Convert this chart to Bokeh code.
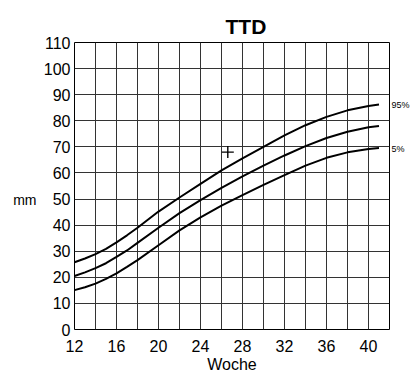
from bokeh.plotting import figure
from bokeh.models import Range1d, FixedTicker, LinearAxis
from bokeh.embed import file_html
from bokeh.resources import INLINE

weeks = [12, 13, 14, 15, 16, 17, 18, 20, 22, 24, 26, 28, 30, 32, 34, 36, 38, 40, 41]
p95 = [25.8, 27.2, 28.9, 30.9, 33.4, 36.1, 39, 45.2, 50.6, 55.8, 61, 65.6, 70, 74.4, 78.3, 81.5, 84, 85.7, 86.2]
p50 = [20.5, 21.9, 23.5, 25.4, 27.8, 30.3, 33.2, 39, 44.6, 49.6, 54.3, 58.7, 62.8, 66.7, 70.3, 73.4, 75.8, 77.5, 78]
p05 = [15.1, 16.2, 17.6, 19.4, 21.5, 24, 26.6, 32.3, 38, 43, 47.5, 51.5, 55.4, 59.2, 62.8, 65.8, 67.9, 69.2, 69.6]
point_week = [26.6]
point_mm = [68]
x_ticks = [12, 16, 20, 24, 28, 32, 36, 40]
x_grid = [14, 16, 18, 20, 22, 24, 26, 28, 30, 32, 34, 36, 38, 40]
y_ticks = [0, 10, 20, 30, 40, 50, 60, 70, 80, 90, 100, 110]
end_labels = {86: "95%", 69: "5%"}
unit_label = {49.5: "mm"}

FONT = "Liberation Sans"

p = figure(frame_width=315, frame_height=287, output_backend="svg", toolbar_location=None,
           x_range=Range1d(12, 42), y_range=Range1d(0, 110),
           min_border_left=74, min_border_right=0, min_border_top=42, min_border_bottom=0,
           title="TTD")

p.title.text_font = FONT
p.title.text_font_size = "21px"
p.title.text_font_style = "bold"
p.title.align = "left"
p.title.offset = 151
p.title.text_color = "black"

p.outline_line_color = "black"
p.outline_line_width = 1

p.xaxis.ticker = FixedTicker(ticks=x_ticks)
p.yaxis.ticker = FixedTicker(ticks=y_ticks)

# unit label "mm" as a second left axis
unit_axis = LinearAxis(ticker=FixedTicker(ticks=list(unit_label.keys())),
                       major_label_overrides=unit_label)
p.add_layout(unit_axis, "left")
# percentile labels on the right
pct_axis = LinearAxis(ticker=FixedTicker(ticks=list(end_labels.keys())),
                      major_label_overrides=end_labels)
p.add_layout(pct_axis, "right")

for ax in p.xaxis + p.yaxis:
    ax.major_tick_line_color = None
    ax.minor_tick_line_color = None
    ax.major_tick_out = 0
    ax.major_tick_in = 0
    ax.minor_tick_out = 0
    ax.minor_tick_in = 0
    ax.axis_line_color = None
    ax.major_label_text_font = FONT
    ax.major_label_text_font_size = "16px"
    ax.major_label_text_color = "black"

p.xaxis.major_label_standoff = 10
p.yaxis[0].major_label_standoff = 4
unit_axis.major_label_text_font_size = "14px"
unit_axis.major_label_standoff = 4
pct_axis.major_label_text_font_size = "9px"
pct_axis.major_label_standoff = 2

p.xaxis.axis_label = "Woche"
p.xaxis.axis_label_text_font = FONT
p.xaxis.axis_label_text_font_size = "16px"
p.xaxis.axis_label_text_font_style = "normal"
p.xaxis.axis_label_text_color = "black"
p.xaxis.axis_label_standoff = 1

p.xgrid.ticker = FixedTicker(ticks=x_grid)
p.ygrid.ticker = FixedTicker(ticks=y_ticks)
p.xgrid.grid_line_color = "#333333"
p.ygrid.grid_line_color = "#333333"
p.xgrid.grid_line_width = 1
p.ygrid.grid_line_width = 1

for ys in (p95, p50, p05):
    p.line(weeks, ys, line_color="black", line_width=2)

p.scatter(point_week, point_mm, marker="cross", size=12, line_color="black", line_width=1.4)

open("out.html", "w").write(file_html(p, INLINE))
